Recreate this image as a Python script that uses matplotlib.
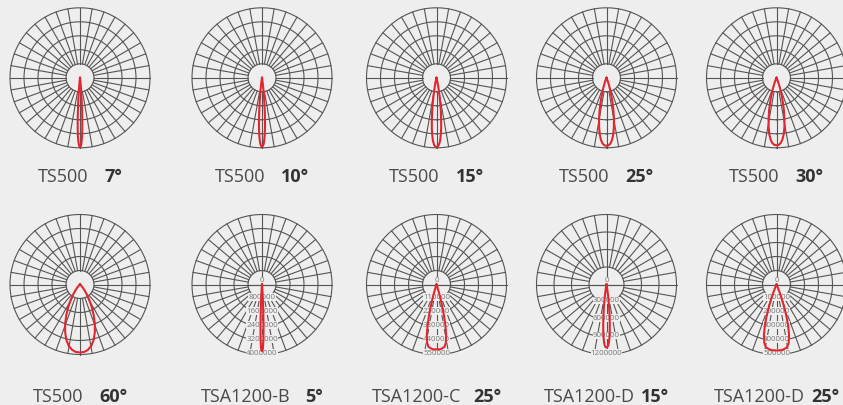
import matplotlib
matplotlib.use('Agg')
import matplotlib.pyplot as plt
import numpy as np

W, H = 843, 405
BG = '#eeeeee'
GRID = '#555555'
RED = '#e3262d'

# ---- chart data ----
names = ['TS500', 'TS500', 'TS500', 'TS500', 'TS500',
         'TS500', 'TSA1200-B', 'TSA1200-C', 'TSA1200-D', 'TSA1200-D']
beams = ['7°', '10°', '15°', '25°', '30°', '60°', '5°', '25°', '15°', '25°']

# radial scale labels (None -> unlabeled chart, relative scale 0..100 with 5 rings)
scales = [None, None, None, None, None, None,
          [0, 800000, 1600000, 2400000, 3200000, 4000000],
          [0, 110000, 220000, 330000, 440000, 550000],
          [0, 300000, 600000, 900000, 1200000],
          [0, 100000, 200000, 300000, 400000, 500000]]

# half-lobe curves: angle from nadir (deg) and intensity
ang_ts500_7 = [0, 0.5, 1.0, 1.5, 2.1, 2.6, 3.1, 3.6, 4.1, 4.6, 5.1, 5.7, 6.2, 7.2, 8.2, 9.5]
val_ts500_7 = [98.6, 98.1, 95.5, 90.5, 82.6, 72.4, 60.5, 48.2, 36.3, 25.7, 17.2, 10.7, 6.3, 1.7, 0.3, 0]

ang_ts500_10 = [0, 0.7, 1.4, 2.0, 2.7, 3.4, 4.1, 4.7, 5.4, 6.1, 6.8, 7.4, 8.1, 9.5, 10.8, 12.5]
val_ts500_10 = [97.9, 97.4, 94.9, 89.8, 82.0, 71.9, 60.1, 47.9, 36.0, 25.6, 17.0, 10.7, 6.2, 1.7, 0.3, 0]

ang_ts500_15 = [0, 1.1, 2.1, 3.2, 4.2, 5.3, 6.3, 7.4, 8.4, 9.5, 10.5, 11.6, 12.6, 14.7, 16.8, 19]
val_ts500_15 = [98.6, 98.1, 95.5, 90.5, 82.6, 72.4, 60.5, 48.2, 36.3, 25.7, 17.2, 10.7, 6.3, 1.7, 0.3, 0]

ang_ts500_25 = [0, 1.7, 3.4, 5.1, 6.8, 8.5, 10.3, 12.0, 13.7, 15.4, 17.1, 18.8, 20.5, 23.9, 27.3, 31]
val_ts500_25 = [97.1, 96.6, 94.1, 89.1, 81.4, 71.3, 59.6, 47.5, 35.7, 25.3, 16.9, 10.6, 6.2, 1.7, 0.3, 0]

ang_ts500_30 = [0, 1.8, 3.7, 5.5, 7.4, 9.2, 11.0, 12.9, 14.7, 16.5, 18.4, 20.2, 22.1, 25.7, 29.4, 33]
val_ts500_30 = [96.4, 95.9, 93.4, 88.4, 80.8, 70.8, 59.2, 47.1, 35.5, 25.2, 16.8, 10.5, 6.1, 1.7, 0.3, 0]

ang_ts500_60 = [0, 3.5, 6.9, 10.4, 13.9, 17.3, 20.8, 24.2, 27.7, 31.2, 34.6, 38.1, 41.6, 48.5, 55.4, 62]
val_ts500_60 = [97.1, 96.6, 94.1, 89.1, 81.4, 71.3, 59.6, 47.5, 35.7, 25.3, 16.9, 10.6, 6.2, 1.7, 0.3, 0]

ang_tsa_b = [0, 0.35, 0.7, 1.04, 1.39, 1.74, 2.09, 2.43, 2.78, 3.13, 3.48, 3.82, 4.17, 4.87, 5.56, 6.4]
val_tsa_b = [3810000, 3789000, 3692000, 3496000, 3193000, 2797000, 2339000, 1863000,
             1402000, 994000, 663000, 415000, 242000, 66000, 13000, 0]

ang_tsa_c = [0, 3.6, 7.3, 9.1, 10.9, 12.3, 13.4, 14.5, 15.6, 16.7, 18.1, 20.3, 22]
val_tsa_c = [510000, 509500, 494200, 463600, 402400, 327400, 259100, 187700,
             121400, 68300, 24100, 2300, 0]

ang_tsa_d15 = [0, 0.81, 1.62, 2.42, 3.23, 4.04, 4.85, 5.65, 6.46, 7.27, 8.08, 8.88, 9.69, 11.3, 12.9, 14.5]
val_tsa_d15 = [1080000, 1074000, 1047000, 991000, 905000, 793000, 663000, 528000,
               397000, 282000, 188000, 118000, 69000, 19000, 4000, 0]

ang_tsa_d25 = [0, 4.7, 9.4, 11.7, 14.0, 15.9, 17.3, 18.7, 20.1, 21.5, 23.4, 26.2, 28]
val_tsa_d25 = [471000, 470500, 456400, 428100, 371600, 302400, 239300, 173300,
               112100, 63100, 22300, 2200, 0]

lobes = [(ang_ts500_7, val_ts500_7), (ang_ts500_10, val_ts500_10),
         (ang_ts500_15, val_ts500_15), (ang_ts500_25, val_ts500_25),
         (ang_ts500_30, val_ts500_30), (ang_ts500_60, val_ts500_60),
         (ang_tsa_b, val_tsa_b), (ang_tsa_c, val_tsa_c),
         (ang_tsa_d15, val_tsa_d15), (ang_tsa_d25, val_tsa_d25)]

# ---- layout (pixels) ----
xs = [80, 262, 436.5, 606.5, 776.5]
centers = [(x, 77.8) for x in xs] + [(x, 284.5) for x in xs]
R = 70
label_base = [181.5]*5 + [401.7]*5
gaps = [16, 16, 16, 16, 16, 16, 15, 12, 7, 7]

fig = plt.figure(figsize=(W/100, H/100), dpi=100)
fig.patch.set_facecolor(BG)

circ = np.linspace(0, 2*np.pi, 361)
for i in range(10):
    cx, cy = centers[i]
    ax = fig.add_axes([(cx-R)/W, 1-(cy+R)/H, 2*R/W, 2*R/H], projection='polar')
    ax.set_theta_zero_location('S')
    ax.axis('off')
    ticks = scales[i]
    if ticks is None:
        rmax, nring = 100.0, 5
    else:
        rmax, nring = ticks[-1], len(ticks)-1
    ax.set_ylim(0, rmax)
    rin = rmax/nring
    for k in range(1, nring+1):
        ax.plot(circ, np.full_like(circ, rin*k), color=GRID, lw=0.8, clip_on=False, zorder=1)
    for a in range(0, 360, 10):
        ax.plot([np.radians(a)]*2, [rin, rmax], color=GRID, lw=0.8, clip_on=False, zorder=1)
    if ticks is not None:
        # axis lines running through the centre hole
        ax.plot([np.radians(90), np.radians(270)], [rin, rin], color=GRID, lw=0.8, zorder=1)
        ax.plot([np.radians(90), 0, np.radians(270)], [rin, 0, rin], color=GRID, lw=0.8, zorder=1)
        ax.plot([np.radians(180), 0], [rin, 0], color=GRID, lw=0.8, zorder=1)

    ang, val = lobes[i]
    ang = np.radians(np.array(ang, dtype=float))
    val = np.array(val, dtype=float)
    th = np.concatenate([-ang[::-1], ang[1:]])
    rr = np.concatenate([val[::-1], val[1:]])
    ax.plot(th, rr, color=RED, lw=1.5, clip_on=False, zorder=4)

    if ticks is not None:
        for k, t in enumerate(ticks):
            ax.annotate(str(t), xy=(0, rin*k), xytext=(0, 3 if k == 0 else 1),
                        textcoords='offset points', ha='center', va='center',
                        fontsize=5.7, color='#777777', family='Open Sans', zorder=3,
                        bbox=dict(facecolor=BG, edgecolor='none', pad=0.1))

# ---- labels under each chart, centered as name + bold angle ----
texts = []
for i in range(10):
    t1 = fig.text(0, 1-label_base[i]/H, names[i], fontsize=13, family='Open Sans',
                  color='#4a4a4a', va='baseline', ha='left')
    t2 = fig.text(0, 1-label_base[i]/H, beams[i], fontsize=13, family='Open Sans',
                  fontweight='bold', color='#333333', va='baseline', ha='left')
    texts.append((t1, t2))

fig.canvas.draw()
rend = fig.canvas.get_renderer()
for i, (t1, t2) in enumerate(texts):
    w1 = t1.get_window_extent(rend).width
    w2 = t2.get_window_extent(rend).width
    total = w1 + gaps[i] + w2
    x0 = centers[i][0] - total/2
    t1.set_x(x0/W)
    t2.set_x((x0 + w1 + gaps[i])/W)

fig.savefig('out.png', dpi=100, facecolor=BG)
